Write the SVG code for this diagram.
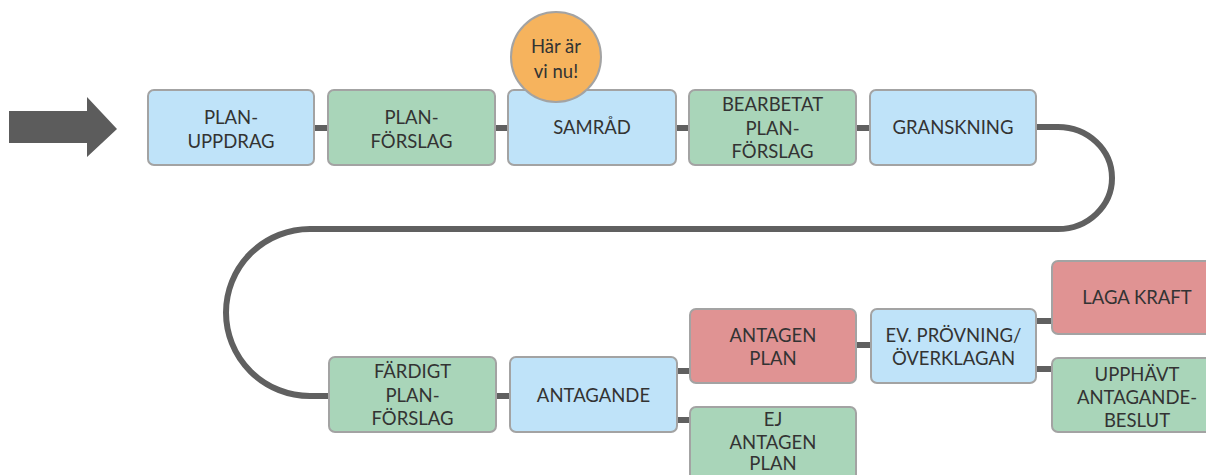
<svg xmlns="http://www.w3.org/2000/svg" width="1206" height="475" viewBox="0 0 1206 475">
<style>
.box{stroke:#a3a3a3;stroke-width:2}
.blue{fill:#bfe3f9}
.green{fill:#a9d5b9}
.red{fill:#e09393}
.orange{fill:#f6b35d}
text{font-family:Lato,"Open Sans","Liberation Sans",sans-serif;font-size:18.5px;fill:#333;text-anchor:middle}
.conn{stroke:#606060;stroke-width:6;fill:none}
</style>
<rect width="1206" height="475" fill="#fff"/>
<g id="start-arrow">
<polygon points="9,111 87,111 87,97 117,129 87,157 87,143 9,143" fill="#5c5c5c"/>
</g>
<g id="connectors">
<line class="conn" x1="314" y1="128" x2="329" y2="128"/>
<line class="conn" x1="494" y1="128" x2="509" y2="128"/>
<line class="conn" x1="675" y1="128" x2="690" y2="128"/>
<line class="conn" x1="855" y1="128" x2="871" y2="128"/>
<path class="conn" d="M1035,127 H1058 A54,51 0 0 1 1058,229 H310 A84,83.5 0 0 0 310,396 H330"/>
<line class="conn" x1="495" y1="396" x2="511" y2="396"/>
<line class="conn" x1="676" y1="371" x2="691" y2="371"/>
<line class="conn" x1="676" y1="420" x2="691" y2="420"/>
<line class="conn" x1="855" y1="345" x2="871" y2="345"/>
<line class="conn" x1="1035" y1="321" x2="1053" y2="321"/>
<line class="conn" x1="1035" y1="369" x2="1053" y2="369"/>
</g>
<g id="plan-uppdrag">
<rect class="box blue" x="148" y="90" width="166" height="75" rx="6"/>
<text x="231" y="124">PLAN-</text>
<text x="231" y="148">UPPDRAG</text>
</g>
<g id="plan-forslag">
<rect class="box green" x="328" y="90" width="167" height="75" rx="6"/>
<text x="411.5" y="124">PLAN-</text>
<text x="411.5" y="148">FÖRSLAG</text>
</g>
<g id="samrad">
<rect class="box blue" x="508" y="90" width="168" height="75" rx="6"/>
<text x="592" y="134">SAMRÅD</text>
</g>
<g id="bearbetat">
<rect class="box green" x="689" y="90" width="167" height="75" rx="6"/>
<text x="772.5" y="111">BEARBETAT</text>
<text x="772.5" y="135">PLAN-</text>
<text x="772.5" y="158">FÖRSLAG</text>
</g>
<g id="granskning">
<rect class="box blue" x="870" y="90" width="166" height="75" rx="6"/>
<text x="953" y="134">GRANSKNING</text>
</g>
<g id="har-ar-vi-nu">
<circle class="box orange" cx="556" cy="57" r="45"/>
<text x="556" y="53">Här är</text>
<text x="556" y="78">vi nu!</text>
</g>
<g id="fardigt">
<rect class="box green" x="329" y="357" width="167" height="75" rx="6"/>
<text x="412.5" y="378">FÄRDIGT</text>
<text x="412.5" y="402">PLAN-</text>
<text x="412.5" y="425">FÖRSLAG</text>
</g>
<g id="antagande">
<rect class="box blue" x="510" y="357" width="167" height="75" rx="6"/>
<text x="593.5" y="402">ANTAGANDE</text>
</g>
<g id="antagen-plan">
<rect class="box red" x="690" y="309" width="166" height="74" rx="6"/>
<text x="773" y="342">ANTAGEN</text>
<text x="773" y="365">PLAN</text>
</g>
<g id="ej-antagen-plan">
<rect class="box green" x="690" y="407" width="166" height="80" rx="6"/>
<text x="773" y="426">EJ</text>
<text x="773" y="449">ANTAGEN</text>
<text x="773" y="470">PLAN</text>
</g>
<g id="provning">
<rect class="box blue" x="871" y="309" width="165" height="74" rx="6"/>
<text x="953.5" y="342">EV. PRÖVNING/</text>
<text x="953.5" y="365">ÖVERKLAGAN</text>
</g>
<g id="laga-kraft">
<rect class="box red" x="1052" y="261" width="170" height="73" rx="6"/>
<text x="1137" y="304">LAGA KRAFT</text>
</g>
<g id="upphavt">
<rect class="box green" x="1052" y="358" width="170" height="74" rx="6"/>
<text x="1137" y="381">UPPHÄVT</text>
<text x="1137" y="404">ANTAGANDE-</text>
<text x="1137" y="427">BESLUT</text>
</g>
</svg>
